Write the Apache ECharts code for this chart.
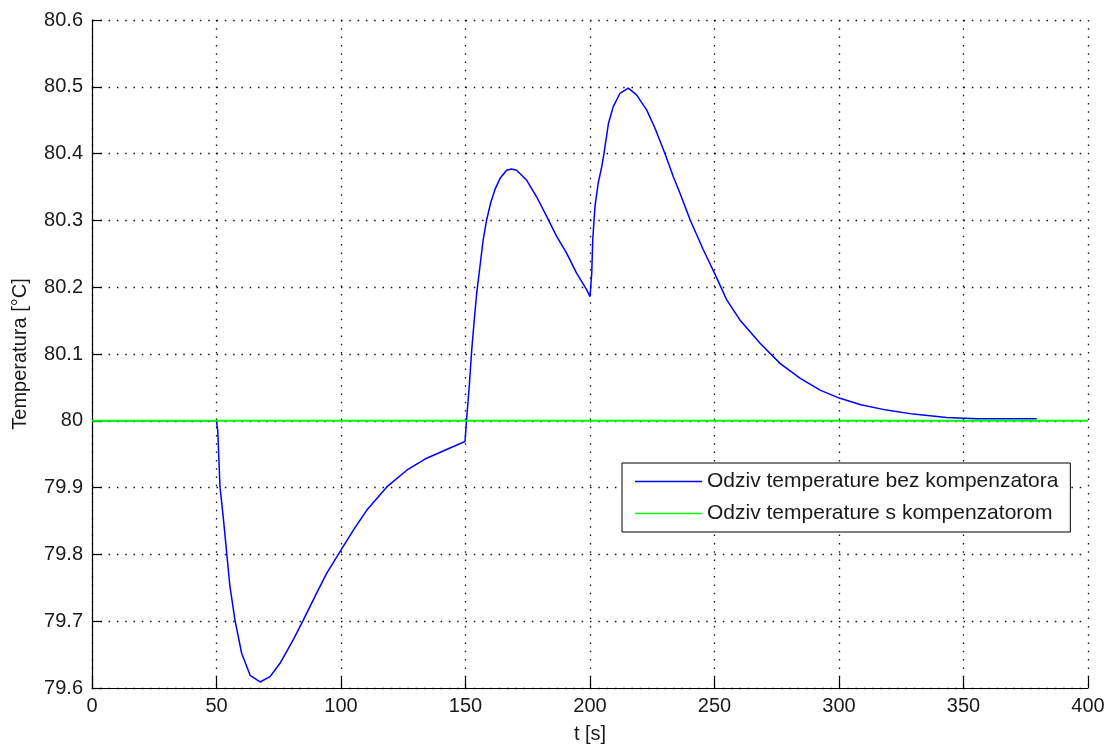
<!DOCTYPE html>
<html>
<head>
<meta charset="utf-8">
<script src="https://cdn.jsdelivr.net/npm/echarts@6/dist/echarts.min.js"></script>
<style>
html,body{margin:0;padding:0;background:#fff;}
#chart{width:1110px;height:749px;}
</style>
</head>
<body>
<div id="chart"></div>
<script>
// ---- data ----
const seriesNames = ['Odziv temperature bez kompenzatora', 'Odziv temperature s kompenzatorom'];
const xTicks = [0, 50, 100, 150, 200, 250, 300, 350, 400];
const yTicks = [79.6, 79.7, 79.8, 79.9, 80, 80.1, 80.2, 80.3, 80.4, 80.5, 80.6];

const tBlue = [0, 50, 50.5, 51.4, 52.7, 54.1, 55.4, 57.4, 60.1, 63.5, 67.5, 71.5, 75.5, 80.8, 84.9, 90.2, 94.3, 99.6,
  104.9, 110.3, 118.4, 126.4, 134.4, 142.4, 149.8, 150.4, 151.5, 152.4, 153.4, 154.5, 155.8, 157.1, 158.5, 160.1,
  161.8, 163.9, 166.5, 168.5, 170.5, 174.6, 178.6, 182.6, 186.6, 190.6, 194.6, 198.7, 200.0, 200.7, 201.1, 202.0,
  203.3, 204.7, 205.6, 207.4, 209.3, 212.0, 215.4, 218.7, 222.8, 226.1, 230.1, 233.5, 236.1, 240.2, 245.5, 250.0,
  254.9, 260.2, 268.3, 276.3, 284.3, 292.4, 300.1, 308.8, 319.1, 329.8, 343.2, 355.3, 379.4];
const yBlue = [80.000, 80.000, 79.985, 79.901, 79.856, 79.802, 79.752, 79.702, 79.652, 79.619, 79.609, 79.617, 79.637,
  79.672, 79.702, 79.742, 79.772, 79.804, 79.836, 79.866, 79.901, 79.926, 79.944, 79.957, 79.969, 80.000, 80.051,
  80.101, 80.146, 80.191, 80.231, 80.271, 80.301, 80.326, 80.346, 80.363, 80.375, 80.377, 80.375, 80.360, 80.335,
  80.306, 80.276, 80.251, 80.221, 80.196, 80.186, 80.221, 80.271, 80.321, 80.356, 80.380, 80.400, 80.445, 80.470,
  80.490, 80.498, 80.488, 80.465, 80.438, 80.400, 80.365, 80.341, 80.301, 80.256, 80.221, 80.181, 80.151, 80.116,
  80.086, 80.064, 80.046, 80.034, 80.024, 80.016, 80.010, 80.005, 80.003, 80.003];

const tGreen = [0, 400];
const yGreen = [80, 80];

const blueData = tBlue.map((t, i) => [t, yBlue[i]]);
const greenData = tGreen.map((t, i) => [t, yGreen[i]]);

const FONT = '"Liberation Sans", Arial, sans-serif';
const TXT = '#1a1a1a';
const gridLine = { show: true, lineStyle: { color: '#111', width: 1.3, type: [1.5, 6.8] } };
const lineIcon = 'path://M0,0H67V1.6H0Z';

const chart = echarts.init(document.getElementById('chart'), null, { renderer: 'canvas' });
chart.setOption({
  animation: false,
  backgroundColor: '#ffffff',
  grid: { left: 92, right: 22, top: 20, bottom: 61, containLabel: false },
  xAxis: {
    type: 'value',
    min: xTicks[0], max: xTicks[xTicks.length - 1], interval: xTicks[1] - xTicks[0],
    name: 't [s]', nameLocation: 'middle', nameGap: 36,
    nameTextStyle: { fontFamily: FONT, fontSize: 20, color: TXT },
    axisLine: { show: true, onZero: false, lineStyle: { color: '#000', width: 1.2 } },
    axisTick: { show: true, inside: true, length: 12, lineStyle: { color: '#000', width: 1.2 } },
    axisLabel: { fontFamily: FONT, fontSize: 20, color: TXT, margin: 8 },
    splitLine: gridLine
  },
  yAxis: {
    type: 'value',
    min: yTicks[0], max: yTicks[yTicks.length - 1], interval: 0.1,
    name: 'Temperatura [°C]', nameLocation: 'middle', nameGap: 62,
    nameTextStyle: { fontFamily: FONT, fontSize: 20, color: TXT },
    axisLine: { show: true, onZero: false, lineStyle: { color: '#000', width: 1.2 } },
    axisTick: { show: true, inside: true, length: 10, lineStyle: { color: '#000', width: 1.2 } },
    axisLabel: { fontFamily: FONT, fontSize: 20, color: TXT, margin: 9,
      formatter: v => String(Math.round(v * 10) / 10) },
    splitLine: gridLine
  },
  legend: {
    orient: 'vertical',
    left: 622, top: 463,
    padding: [8, 12, 8, 13],
    itemWidth: 67, itemHeight: 20, itemGap: 11,
    symbolKeepAspect: true,
    backgroundColor: '#ffffff', borderColor: '#000', borderWidth: 1,
    textStyle: { fontFamily: FONT, fontSize: 21, color: TXT },
    data: [
      { name: seriesNames[0], icon: lineIcon },
      { name: seriesNames[1], icon: lineIcon }
    ]
  },
  series: [
    {
      name: seriesNames[0], type: 'line', data: blueData, symbol: 'none', smooth: false,
      lineStyle: { color: '#0000ff', width: 1.5 }, itemStyle: { color: '#0000ff' }, z: 2
    },
    {
      name: seriesNames[1], type: 'line', data: greenData, symbol: 'none',
      lineStyle: { color: '#00ff00', width: 2 }, itemStyle: { color: '#00ff00' }, z: 3
    }
  ]
});
</script>
</body>
</html>
